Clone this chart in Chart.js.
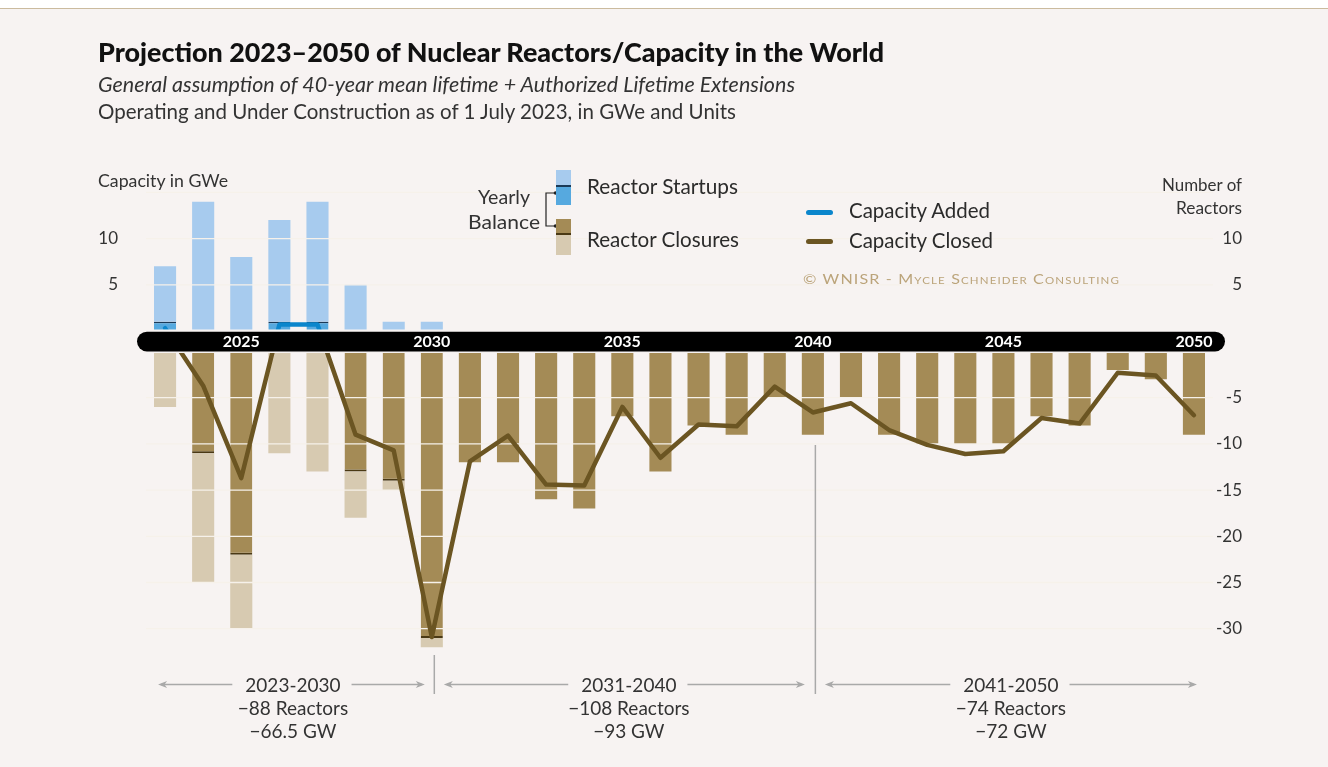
<!DOCTYPE html>
<html><head><meta charset="utf-8">
<script src="https://cdn.jsdelivr.net/npm/chart.js@4.4.1/dist/chart.umd.min.js"></script>
<style>
html,body{margin:0;padding:0}
body{width:1328px;height:767px;background:#f7f3f2;position:relative;overflow:hidden;font-family:Lato,'Noto Sans',sans-serif;color:#2b2b2b}
#topbar{position:absolute;left:0;top:0;width:1328px;height:8px;background:#fff;border-bottom:1.5px solid #cbbb9e}
canvas{position:absolute;left:0;top:0}
.t{position:absolute;white-space:nowrap;line-height:1;transform-origin:0 50%}
.sw{position:absolute;left:556px;width:15px}
.ln{position:absolute;left:806px;width:27px;height:4.5px;border-radius:3px}
</style></head><body>
<div id="topbar"></div>
<canvas id="c" width="1328" height="767"></canvas>

<div class="t" data-x="98" data-y="53" data-w="786" style="font-size:26px;font-weight:900;color:#111">Projection 2023–2050 of Nuclear Reactors/Capacity in the World</div>
<div class="t" data-x="98" data-y="85" data-w="697" style="font-size:21px;font-style:italic;color:#333">General assumption of 40-year mean lifetime + Authorized Lifetime Extensions</div>
<div class="t" data-x="98" data-y="112" data-w="638" style="font-size:21px;color:#333">Operating and Under Construction as of 1 July 2023, in GWe and Units</div>

<div class="t" data-x="98" data-y="181" data-w="130" style="font-size:17px;color:#333">Capacity in GWe</div>
<div class="t" data-x="1242" data-a="r" data-y="185" data-w="80" style="font-size:17px;color:#333">Number of</div>
<div class="t" data-x="1242" data-a="r" data-y="208" data-w="66" style="font-size:17px;color:#333">Reactors</div>

<div class="t" data-x="504" data-a="c" data-y="197" data-w="52" style="font-size:20px;color:#333">Yearly</div>
<div class="t" data-x="504" data-a="c" data-y="222" data-w="72" style="font-size:20px;color:#333">Balance</div>
<svg style="position:absolute;left:0;top:0" width="600" height="260">
  <path d="M556 193 H546 V226 H556" fill="none" stroke="#222" stroke-width="1.2"/>
  <circle cx="555.5" cy="193" r="1.8" fill="#222"/>
  <circle cx="555.5" cy="226" r="1.8" fill="#222"/>
</svg>
<div class="sw" style="top:170px;height:15px;background:#a7cbee"></div>
<div class="sw" style="top:185px;height:1.5px;background:#1b3a57"></div>
<div class="sw" style="top:186.5px;height:18.5px;background:#56a9df"></div>
<div class="sw" style="top:219px;height:14px;background:#a48b56"></div>
<div class="sw" style="top:233px;height:1.5px;background:#4a3914"></div>
<div class="sw" style="top:234.5px;height:20px;background:#d7cab1"></div>
<div class="t" data-x="587" data-y="187" data-w="151" style="font-size:21px;color:#2b2b2b">Reactor Startups</div>
<div class="t" data-x="587" data-y="240" data-w="152" style="font-size:21px;color:#2b2b2b">Reactor Closures</div>

<div class="ln" style="top:210px;background:#0b86cc"></div>
<div class="ln" style="top:239px;background:#6b5522"></div>
<div class="t" data-x="849" data-y="211" data-w="141" style="font-size:21px;color:#2b2b2b">Capacity Added</div>
<div class="t" data-x="849" data-y="241" data-w="144" style="font-size:21px;color:#2b2b2b">Capacity Closed</div>
<div class="t" data-x="803" data-y="280" data-w="317" style="font-size:14px;color:#bba47a;font-variant:small-caps;letter-spacing:1px">© WNISR - Mycle Schneider Consulting</div>

<script>
// ---------- data ----------
const years = [2023,2024,2025,2026,2027,2028,2029,2030,2031,2032,2033,2034,2035,2036,2037,2038,2039,2040,2041,2042,2043,2044,2045,2046,2047,2048,2049,2050];
const startups = [7,14,8,12,14,5,1,1,0,0,0,0,0,0,0,0,0,0,0,0,0,0,0,0,0,0,0,0];
const closures = [6,25,30,11,13,18,15,32,12,12,16,17,7,13,8,9,5,9,5,9,10,10,10,7,8,2,3,9];
const netCapacity = [0.3,-3.7,-13.7,0.7,0.7,-9.0,-10.7,-30.9,-11.9,-9.1,-14.4,-14.5,-6.0,-11.5,-7.9,-8.1,-3.8,-6.6,-5.6,-8.5,-10.1,-11.1,-10.8,-7.2,-7.8,-2.3,-2.6,-6.9];
const leftTicks = [5, 10];
const rightTicks = [10, 5, -5, -10, -15, -20, -25, -30];
const periodLabels = ['2023-2030', '2031-2040', '2041-2050'];
const periodReactors = ['\u221288 Reactors', '\u2212108 Reactors', '\u221274 Reactors'];
const periodGW = ['\u221266.5 GW', '\u221293 GW', '\u221272 GW'];

// derived stacks (yearly balance split)
const balance = startups.map((s, i) => s - closures[i]);
const posBalance = balance.map(b => Math.max(b, 0));
const startupsRest = startups.map((s, i) => s - posBalance[i]);
const negBalance = balance.map(b => Math.min(b, 0));
const closuresRest = closures.map((c, i) => -c - negBalance[i]);

// ---------- text fitting ----------
document.querySelectorAll('.t').forEach(el => {
  const F = parseFloat(getComputedStyle(el).fontSize);
  const w = el.getBoundingClientRect().width;
  const tw = +el.dataset.w || w;
  const a = el.dataset.a || 'l';
  const x = +el.dataset.x;
  el.style.transform = 'scaleX(' + (tw / w) + ')';
  el.style.left = (a === 'l' ? x : a === 'r' ? x - tw : x - tw / 2) + 'px';
  el.style.top = (+el.dataset.y - 0.55 * F) + 'px';
});

// ---------- split (gapped) linear scale ----------
class GapLinearScale extends Chart.LinearScale {
  getPixelForValue(value) {
    if (value === null || value === undefined || isNaN(value)) return NaN;
    const gap = this.options.gap || 0;
    const k = (this.bottom - this.top - gap) / (this.max - this.min);
    const zeroTop = this.top + this.max * k;
    if (value > 0) return zeroTop - value * k;
    if (value < 0) return zeroTop + gap - value * k;
    return zeroTop + gap / 2;
  }
  getValueForPixel(pixel) {
    const gap = this.options.gap || 0;
    const k = (this.bottom - this.top - gap) / (this.max - this.min);
    const zeroTop = this.top + this.max * k;
    if (pixel <= zeroTop) return (zeroTop - pixel) / k;
    if (pixel >= zeroTop + gap) return -(pixel - zeroTop - gap) / k;
    return 0;
  }
}
GapLinearScale.id = 'gapLinear';
GapLinearScale.defaults = Chart.LinearScale.defaults;
Chart.register(GapLinearScale);

const BG = '#f7f3f2';
const BLUE = '#0b86cc', BROWN = '#6b5522';

// light grid lines over bars, under the line
const gridOverBars = {
  id: 'gridOverBars',
  beforeDatasetDraw(chart, args) {
    if (args.meta.type !== 'line') return;
    const s = chart.scales.yR, a = chart.chartArea, ctx = chart.ctx;
    ctx.save();
    ctx.strokeStyle = '#f6f1ea';
    ctx.lineWidth = 1.3;
    s.ticks.forEach(t => {
      if (t.value === 0 || t.value % 5 !== 0) return;
      const y = s.getPixelForValue(t.value);
      ctx.beginPath(); ctx.moveTo(a.left, y); ctx.lineTo(a.right, y); ctx.stroke();
    });
    ctx.restore();
  }
};

function pill(ctx, x, y, w, h) {
  const r = h / 2;
  ctx.beginPath();
  ctx.moveTo(x + r, y);
  ctx.lineTo(x + w - r, y);
  ctx.arc(x + w - r, y + r, r, -Math.PI / 2, Math.PI / 2);
  ctx.lineTo(x + r, y + h);
  ctx.arc(x + r, y + r, r, Math.PI / 2, Math.PI * 1.5);
  ctx.closePath();
  ctx.fill();
}

// black zero band
const zeroBand = {
  id: 'zeroBand',
  afterDatasetsDraw(chart) {
    const s = chart.scales.yR, a = chart.chartArea, ctx = chart.ctx;
    const gap = s.options.gap;
    const yc = s.getPixelForValue(0);
    const top = yc - gap / 2, x0 = a.left - 9, x1 = a.right + 12;
    ctx.save();
    ctx.fillStyle = BG;
    pill(ctx, x0 - 1.5, top - 1.5, x1 - x0 + 3, gap + 3);
    ctx.fillStyle = '#000';
    pill(ctx, x0, top + 0.7, x1 - x0, gap - 0.7);
    ctx.restore();
  }
};

function arrowLine(ctx, from, to, y) {
  const d = Math.sign(to - from);
  ctx.beginPath(); ctx.moveTo(from, y); ctx.lineTo(to - d * 3, y); ctx.stroke();
  ctx.beginPath();
  ctx.moveTo(to, y);
  ctx.lineTo(to - d * 9, y - 3.6);
  ctx.lineTo(to - d * 6.5, y);
  ctx.lineTo(to - d * 9, y + 3.6);
  ctx.closePath(); ctx.fill();
}

// period annotations under the chart
const periods = {
  id: 'periods',
  afterDraw(chart) {
    const ctx = chart.ctx, x = chart.scales.x;
    const px = i => x.getPixelForValue(i);
    const spans = [[px(0) - 7, px(7) - 7], [px(7) + 12, px(17) - 8], [px(17) + 12, px(27) + 3]];
    const shift = [1.5, 4.5, 0];
    ctx.save();
    ctx.strokeStyle = '#a9a9a9'; ctx.fillStyle = '#a9a9a9'; ctx.lineWidth = 1.5;
    [[px(7) + 2.5, 655], [px(17) + 2.5, 445]].forEach(([sx, sy]) => {
      ctx.beginPath(); ctx.moveTo(sx, sy); ctx.lineTo(sx, 694); ctx.stroke();
    });
    ctx.font = '19px Lato';
    ctx.textAlign = 'center'; ctx.textBaseline = 'middle';
    spans.forEach(([a, b], g) => {
      const c = (a + b) / 2 + shift[g];
      const w = ctx.measureText(periodLabels[g]).width;
      ctx.strokeStyle = '#a9a9a9'; ctx.fillStyle = '#a9a9a9';
      arrowLine(ctx, c - w / 2 - 13, a, 684.5);
      arrowLine(ctx, c + w / 2 + 11, b, 684.5);
      ctx.fillStyle = '#333';
      ctx.fillText(periodLabels[g], c, 686);
      ctx.fillText(periodReactors[g], c, 709);
      ctx.fillText(periodGW[g], c, 731.5);
    });
    ctx.restore();
  }
};

function lineGradient(context) {
  const chart = context.chart;
  const a = chart.chartArea;
  const s = chart.scales && chart.scales.yR;
  if (!a || !s) return BROWN;
  const y0 = s.getPixelForValue(0);
  const g = chart.ctx.createLinearGradient(0, a.top, 0, a.bottom);
  const t = Math.min(Math.max((y0 - a.top) / (a.bottom - a.top), 0), 1);
  g.addColorStop(0, BLUE); g.addColorStop(t, BLUE);
  g.addColorStop(t, BROWN); g.addColorStop(1, BROWN);
  return g;
}

const tickFont = { family: 'Lato', size: 17 };

new Chart(document.getElementById('c'), {
  type: 'bar',
  data: {
    labels: years,
    datasets: [
      { label: 'Yearly balance (startups)', data: posBalance, backgroundColor: '#56a9df', borderColor: '#1b3a57',
        borderWidth: c => startupsRest[c.dataIndex] > 0 ? { top: 1.5, right: 0, bottom: 0, left: 0 } : 0,
        borderSkipped: false, yAxisID: 'yR', order: 1 },
      { label: 'Reactor Startups', data: startupsRest, backgroundColor: '#a7cbee', borderWidth: 0, yAxisID: 'yR', order: 1 },
      { label: 'Yearly balance (closures)', data: negBalance, backgroundColor: '#a48b56', borderColor: '#4a3914',
        borderWidth: c => closuresRest[c.dataIndex] < 0 ? { top: 0, right: 0, bottom: 2, left: 0 } : 0,
        borderSkipped: false, yAxisID: 'yR', order: 1 },
      { label: 'Reactor Closures', data: closuresRest, backgroundColor: '#d7cab1', borderWidth: 0, yAxisID: 'yR', order: 1 },
      { type: 'line', label: 'Capacity Added / Closed', data: netCapacity, yAxisID: 'yR', order: 0,
        borderColor: lineGradient, borderWidth: 4.5, pointRadius: 0, pointHoverRadius: 0,
        borderJoinStyle: 'round', borderCapStyle: 'round', tension: 0, fill: false }
    ]
  },
  options: {
    responsive: false,
    animation: false,
    events: [],
    categoryPercentage: 1,
    barPercentage: 0.58,
    layout: { padding: { top: 192.4, bottom: 110.6, left: 0, right: 86 } },
    plugins: { legend: { display: false }, tooltip: { enabled: false }, title: { display: false } },
    scales: {
      x: {
        type: 'category', stacked: true, offset: true,
        position: { yR: 0 },
        grid: { display: false, drawTicks: false },
        border: { display: false },
        ticks: {
          z: 1, autoSkip: false, maxRotation: 0, minRotation: 0, padding: -9,
          color: '#fff', font: { family: 'Lato', weight: 'bold', size: 16 },
          callback: function (v, i) { const y = years[i]; return y % 5 === 0 ? String(y) : ''; }
        }
      },
      yL: {
        type: 'gapLinear', position: 'left', min: -33, max: 15, gap: 20.5,
        afterFit(s) { s.width = 146; },
        grid: { display: false }, border: { display: false },
        ticks: { stepSize: 5, padding: 20, color: '#333', font: tickFont,
          callback: v => leftTicks.includes(v) ? String(v) : '' }
      },
      yR: {
        type: 'gapLinear', position: 'right', min: -33, max: 15, gap: 20.5, stacked: true,
        afterFit(s) { s.width = 29; },
        grid: { display: false }, border: { display: false },
        ticks: { stepSize: 5, padding: 0, crossAlign: 'far', color: '#333', font: tickFont,
          callback: v => rightTicks.includes(v) ? String(v) : '' }
      }
    }
  },
  plugins: [gridOverBars, zeroBand, periods]
});
</script>
</body></html>
